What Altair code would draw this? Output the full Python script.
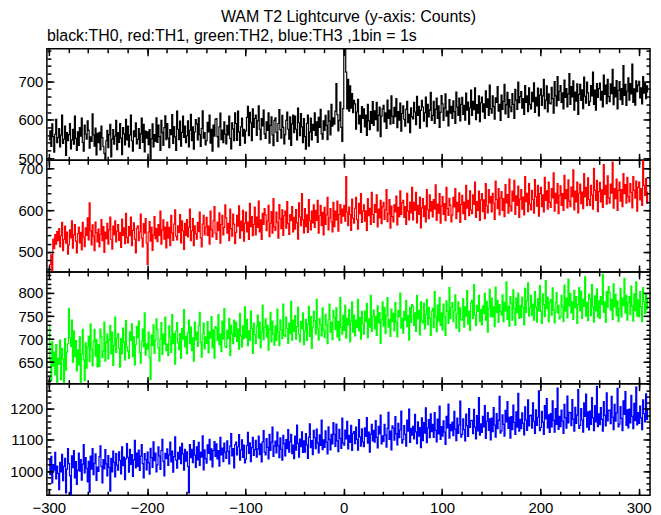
import altair as alt
import pandas as pd

# ---------------- data (counts per 1 s bin, t = -300 ... 309 s) ----------------
TIME_START = -300

th0 = [
    548, 571, 530, 589, 556, 515, 562, 601, 540, 553,
    577, 529, 560, 612, 538, 549, 583, 507, 566, 545,
    561, 590, 524, 547, 575, 536, 609, 551, 520, 568,
    533, 579, 557, 604, 541, 518, 586, 562, 549, 597,
    572, 526, 555, 543, 615, 560, 531, 578, 508, 564,
    540, 567, 521, 583, 553, 530, 512, 496, 545, 572,
    527, 561, 588, 503, 549, 574, 536, 557, 598, 522,
    566, 541, 590, 552, 509, 579, 563, 534, 601, 547,
    583, 529, 560, 612, 545, 518, 571, 556, 592, 537,
    549, 577, 525, 563, 604, 541, 588, 516, 570, 552,
    568, 535, 574, 497, 550, 589, 529, 561, 543, 605,
    541, 586, 556, 520, 598, 567, 533, 579, 610, 548,
    590, 552, 527, 574, 561, 613, 538, 582, 555, 520,
    622, 575, 548, 596, 531, 567, 609, 554, 583, 540,
    558, 597, 529, 572, 614, 545, 581, 523, 568, 600,
    589, 547, 605, 561, 530, 577, 623, 552, 566, 534,
    545, 593, 568, 612, 539, 575, 518, 586, 557, 601,
    603, 556, 529, 581, 617, 548, 573, 540, 594, 562,
    537, 585, 560, 609, 551, 524, 592, 576, 545, 618,
    590, 546, 622, 568, 533, 581, 604, 557, 575, 539,
    571, 606, 635, 558, 619, 592, 545, 628, 580, 603,
    612, 559, 597, 636, 575, 548, 603, 584, 625, 563,
    551, 594, 572, 618, 539, 585, 607, 560, 532, 598,
    605, 567, 543, 590, 626, 574, 552, 611, 580, 537,
    561, 598, 620, 575, 549, 607, 533, 589, 612, 566,
    609, 575, 547, 630, 592, 558, 616, 581, 540, 603,
    556, 523, 590, 612, 531, 568, 604, 547, 588, 572,
    618, 559, 594, 541, 606, 580, 627, 563, 549, 597,
    572, 611, 585, 548, 623, 596, 560, 640, 583, 605,
    588, 622, 694, 613, 571, 598, 646, 580, 543, 629,
    805, 798, 724, 628, 705, 622, 688, 630, 668, 618,
    650, 641, 575, 620, 653, 589, 611, 567, 634, 603,
    628, 581, 612, 559, 640, 597, 574, 621, 590, 647,
    585, 623, 600, 645, 571, 612, 633, 556, 609, 628,
    637, 594, 618, 577, 651, 603, 625, 588, 662, 609,
    590, 632, 608, 655, 579, 621, 599, 643, 570, 616,
    636, 601, 583, 627, 648, 592, 614, 566, 631, 607,
    602, 645, 620, 587, 661, 611, 635, 578, 624, 650,
    633, 596, 618, 659, 582, 640, 607, 625, 671, 598,
    611, 648, 590, 627, 656, 603, 636, 580, 619, 663,
    641, 598, 630, 667, 609, 622, 584, 652, 617, 635,
    603, 649, 621, 590, 672, 633, 611, 656, 597, 640,
    658, 614, 637, 599, 669, 625, 646, 588, 631, 677,
    611, 648, 626, 683, 600, 639, 617, 662, 595, 644,
    659, 620, 641, 603, 675, 632, 654, 611, 690, 628,
    617, 662, 634, 601, 657, 645, 686, 622, 640, 598,
    664, 627, 648, 692, 615, 639, 671, 606, 652, 633,
    621, 668, 640, 603, 679, 651, 627, 698, 644, 660,
    673, 630, 655, 614, 689, 645, 662, 621, 683, 640,
    628, 671, 647, 696, 619, 658, 636, 682, 610, 664,
    680, 637, 662, 705, 629, 651, 688, 620, 667, 643,
    641, 684, 655, 617, 699, 662, 636, 712, 650, 674,
    689, 645, 670, 628, 703, 658, 681, 633, 667, 720,
    640, 686, 659, 701, 625, 672, 648, 693, 614, 666,
    692, 650, 678, 629, 711, 661, 643, 698, 670, 637,
    648, 689, 662, 724, 640, 677, 625, 694, 658, 681,
    695, 651, 674, 633, 716, 666, 690, 642, 705, 660,
    647, 693, 668, 731, 639, 684, 659, 702, 628, 676,
    699, 652, 681, 640, 741, 663, 692, 637, 674, 709,
    651, 694, 667, 745, 645, 680, 638, 701, 673, 690,
    700, 657, 683, 641, 712, 669, 694, 655, 688, 671,
]

th1 = [
    462, 470, 493, 455, 531, 508, 542, 519, 549, 527,
    556, 512, 539, 571, 503, 530, 562, 521, 548, 495,
    517, 553, 534, 575, 509, 541, 566, 526, 498, 544,
    560, 522, 547, 505, 571, 536, 513, 558, 540, 582,
    529, 618, 551, 517, 565, 538, 503, 572, 546, 524,
    555, 512, 542, 578, 527, 561, 499, 548, 532, 569,
    519, 553, 584, 530, 507, 562, 541, 575, 524, 550,
    566, 528, 547, 511, 579, 540, 558, 520, 593, 535,
    522, 561, 539, 584, 515, 552, 570, 531, 498, 557,
    563, 527, 548, 591, 533, 512, 568, 545, 580, 521,
    470, 548, 573, 526, 559, 504, 541, 585, 532, 556,
    525, 566, 540, 598, 519, 553, 577, 531, 560, 510,
    572, 533, 559, 515, 588, 546, 528, 567, 601, 538,
    529, 563, 547, 590, 522, 575, 551, 506, 569, 540,
    578, 536, 559, 603, 527, 551, 580, 515, 563, 544,
    531, 571, 549, 596, 534, 512, 567, 588, 541, 560,
    583, 540, 562, 519, 598, 553, 536, 575, 609, 545,
    530, 572, 551, 594, 521, 566, 588, 541, 559, 613,
    582, 545, 569, 527, 603, 556, 538, 591, 567, 520,
    547, 588, 562, 611, 533, 574, 551, 600, 526, 569,
    596, 548, 572, 530, 617, 561, 585, 539, 566, 608,
    541, 584, 559, 622, 548, 577, 530, 593, 566, 604,
    589, 551, 574, 612, 537, 569, 597, 545, 628, 560,
    552, 596, 571, 533, 614, 580, 556, 601, 540, 587,
    598, 557, 621, 568, 542, 590, 575, 609, 548, 583,
    555, 602, 570, 531, 618, 584, 563, 640, 577, 546,
    604, 561, 589, 547, 626, 575, 553, 598, 570, 613,
    559, 600, 576, 624, 545, 587, 612, 563, 595, 541,
    607, 566, 589, 631, 553, 582, 604, 572, 548, 619,
    561, 598, 577, 622, 550, 590, 614, 569, 603, 586,
    612, 574, 681, 596, 563, 608, 590, 552, 627, 581,
    569, 605, 631, 578, 555, 617, 592, 640, 571, 598,
    613, 574, 599, 552, 628, 587, 605, 566, 643, 590,
    571, 614, 595, 637, 560, 603, 582, 624, 568, 609,
    619, 578, 601, 650, 573, 592, 626, 557, 610, 585,
    572, 613, 596, 634, 565, 607, 585, 647, 590, 618,
    624, 583, 609, 566, 641, 598, 577, 620, 594, 655,
    577, 619, 600, 643, 570, 612, 590, 632, 558, 606,
    628, 585, 611, 572, 650, 602, 580, 637, 598, 621,
    584, 626, 603, 661, 576, 615, 593, 640, 569, 610,
    633, 590, 616, 575, 655, 604, 588, 629, 612, 572,
    589, 631, 608, 652, 580, 619, 597, 642, 571, 614,
    636, 592, 620, 578, 660, 605, 624, 587, 647, 601,
    592, 637, 614, 668, 583, 621, 600, 646, 576, 625,
    640, 597, 625, 580, 664, 611, 594, 650, 618, 633,
    596, 641, 617, 578, 670, 626, 604, 652, 589, 630,
    645, 600, 628, 585, 662, 618, 638, 593, 675, 610,
    598, 646, 622, 672, 590, 635, 612, 658, 583, 627,
    650, 603, 632, 589, 681, 621, 641, 597, 664, 615,
    601, 648, 626, 593, 674, 633, 610, 660, 586, 640,
    655, 609, 637, 596, 679, 624, 647, 603, 668, 619,
    607, 652, 630, 690, 598, 641, 617, 664, 592, 636,
    659, 612, 640, 600, 684, 628, 650, 606, 673, 622,
    609, 656, 633, 697, 601, 646, 620, 668, 594, 641,
    663, 616, 644, 604, 688, 632, 655, 611, 678, 626,
    612, 660, 637, 603, 701, 648, 624, 672, 597, 645,
    667, 620, 649, 607, 710, 638, 660, 615, 683, 630,
    617, 663, 641, 716, 605, 652, 628, 675, 600, 648,
    668, 622, 650, 609, 688, 640, 662, 617, 679, 633,
    620, 664, 643, 606, 681, 648, 629, 670, 598, 655,
    668, 625, 652, 612, 721, 660, 636, 676, 617, 645,
]

th2 = [
    728, 655, 610, 694, 641, 672, 623, 688, 606, 659,
    645, 698, 612, 680, 657, 606, 701, 633, 672, 690,
    766, 703, 684, 741, 650, 718, 662, 697, 631, 676,
    644, 705, 606, 668, 721, 655, 610, 692, 637, 683,
    706, 651, 733, 678, 642, 695, 721, 663, 699, 640,
    688, 641, 722, 705, 660, 674, 737, 652, 693, 711,
    657, 699, 730, 668, 715, 643, 686, 748, 671, 702,
    712, 680, 639, 701, 668, 724, 693, 655, 740, 683,
    674, 658, 716, 697, 733, 662, 705, 644, 688, 727,
    703, 739, 671, 648, 696, 722, 683, 757, 665, 690,
    678, 715, 660, 612, 709, 686, 731, 669, 697, 744,
    721, 681, 652, 700, 736, 667, 711, 689, 748, 675,
    689, 664, 729, 704, 671, 753, 690, 712, 646, 718,
    736, 692, 677, 712, 658, 723, 700, 764, 683, 706,
    668, 714, 741, 690, 726, 675, 703, 652, 737, 699,
    715, 684, 729, 758, 693, 661, 711, 735, 679, 705,
    691, 738, 670, 716, 702, 749, 681, 720, 659, 727,
    724, 697, 753, 688, 711, 673, 739, 700, 766, 684,
    682, 719, 701, 745, 664, 730, 712, 690, 741, 706,
    737, 695, 722, 678, 756, 707, 683, 729, 701, 770,
    703, 743, 686, 718, 697, 761, 723, 669, 735, 710,
    690, 728, 752, 702, 737, 681, 716, 773, 699, 726,
    744, 705, 730, 676, 721, 758, 694, 739, 711, 687,
    729, 697, 765, 715, 686, 742, 720, 701, 776, 708,
    706, 748, 723, 691, 735, 712, 782, 698, 741, 717,
    751, 700, 727, 769, 710, 694, 738, 722, 757, 688,
    718, 743, 697, 732, 771, 706, 749, 680, 726, 760,
    740, 711, 786, 722, 698, 745, 731, 707, 768, 719,
    703, 754, 731, 690, 742, 776, 715, 737, 699, 762,
    747, 721, 768, 705, 738, 697, 790, 726, 711, 752,
    719, 773, 702, 745, 731, 764, 694, 739, 781, 715,
    752, 707, 741, 725, 786, 718, 747, 700, 760, 733,
    711, 761, 738, 777, 703, 744, 726, 795, 717, 750,
    763, 722, 749, 708, 772, 735, 757, 691, 742, 781,
    728, 769, 712, 751, 790, 726, 743, 706, 765, 738,
    756, 718, 779, 736, 705, 762, 748, 800, 724, 745,
    713, 760, 741, 784, 727, 751, 698, 769, 736, 775,
    771, 730, 757, 717, 795, 744, 762, 709, 781, 739,
    735, 778, 722, 754, 786, 731, 769, 745, 708, 760,
    767, 725, 803, 748, 716, 774, 739, 790, 729, 757,
    720, 776, 748, 708, 783, 760, 734, 812, 745, 769,
    779, 738, 762, 796, 724, 755, 781, 717, 768, 742,
    741, 788, 726, 770, 750, 805, 733, 761, 719, 779,
    784, 745, 818, 752, 729, 773, 760, 795, 738, 764,
    731, 772, 756, 799, 741, 782, 715, 767, 808, 749,
    789, 748, 770, 727, 813, 758, 784, 736, 775, 760,
    752, 796, 738, 780, 761, 824, 743, 771, 728, 792,
    778, 741, 807, 766, 730, 789, 757, 800, 745, 772,
    747, 791, 769, 731, 810, 758, 783, 822, 750, 768,
    795, 752, 776, 741, 803, 770, 737, 788, 761, 816,
    760, 734, 798, 775, 749, 827, 766, 791, 738, 780,
    786, 752, 811, 763, 735, 779, 801, 757, 773, 744,
    748, 795, 770, 738, 817, 761, 789, 746, 830, 772,
    799, 757, 781, 743, 806, 768, 792, 734, 775, 812,
    762, 804, 745, 786, 771, 835, 750, 779, 740, 797,
    788, 751, 818, 770, 737, 794, 762, 809, 748, 783,
    745, 792, 775, 841, 758, 781, 736, 803, 769, 814,
    801, 763, 786, 742, 820, 770, 797, 751, 783, 738,
    766, 810, 748, 789, 773, 832, 757, 795, 741, 779,
    792, 753, 815, 771, 739, 798, 762, 824, 750, 785,
    749, 803, 770, 738, 812, 781, 756, 797, 765, 788,
]

th3 = [
    1035, 988, 1047, 962, 1021, 1003, 1060, 975, 1016, 992,
    940, 1028, 997, 1054, 969, 1015, 1041, 930, 1006, 1072,
    1024, 985, 925, 1049, 1011, 1066, 978, 1030, 957, 1003,
    1058, 1000, 1037, 971, 1022, 1085, 994, 1043, 1009, 965,
    1031, 932, 1048, 1006, 1072, 988, 1025, 1055, 970, 1013,
    999, 1046, 1081, 1015, 962, 1037, 1007, 1069, 1023, 984,
    1050, 1012, 935, 1041, 997, 1064, 1028, 981, 1056, 1019,
    1003, 1062, 1034, 991, 1078, 1017, 1045, 972, 1039, 1088,
    1044, 996, 1070, 1021, 1053, 983, 1036, 1099, 1010, 1058,
    1015, 1067, 1002, 1048, 1085, 1024, 978, 1056, 1037, 1004,
    1061, 1026, 990, 1073, 1043, 1012, 1094, 1033, 1058, 997,
    1020, 1078, 1049, 1005, 1066, 1102, 1031, 984, 1057, 1040,
    1071, 1018, 1052, 1093, 1029, 1064, 996, 1046, 1110, 1035,
    1009, 1060, 1038, 1077, 1024, 1089, 1055, 1003, 1070, 1032,
    1062, 1015, 930, 1085, 1043, 1070, 1027, 1098, 1051, 1012,
    1078, 1036, 1092, 1018, 1061, 1045, 1113, 1004, 1068, 1040,
    1025, 1084, 1057, 1102, 1036, 1071, 1013, 1066, 1095, 1047,
    1087, 1039, 1066, 1016, 1108, 1052, 1074, 1030, 1090, 1061,
    1041, 1097, 1063, 1023, 1080, 1120, 1049, 1072, 1010, 1085,
    1093, 1052, 1078, 1117, 1035, 1068, 1100, 1044, 1083, 1026,
    1038, 1082, 1124, 1057, 1091, 1030, 1075, 1108, 1050, 1069,
    1099, 1045, 1071, 1112, 1053, 1087, 1029, 1094, 1130, 1061,
    1052, 1104, 1076, 1039, 1118, 1066, 1093, 1141, 1047, 1080,
    1096, 1058, 1125, 1081, 1043, 1107, 1070, 1035, 1115, 1088,
    1049, 1101, 1072, 1133, 1061, 1094, 1118, 1056, 1083, 1040,
    1112, 1067, 1148, 1089, 1045, 1103, 1078, 1126, 1060, 1097,
    1061, 1120, 1084, 1041, 1109, 1152, 1075, 1098, 1053, 1131,
    1107, 1072, 1135, 1090, 1058, 1116, 1082, 1164, 1069, 1100,
    1076, 1129, 1093, 1055, 1142, 1101, 1068, 1118, 1087, 1156,
    1118, 1079, 1151, 1097, 1062, 1134, 1105, 1073, 1170, 1090,
    1083, 1132, 1103, 1160, 1071, 1115, 1092, 1147, 1066, 1121,
    1127, 1088, 1141, 1102, 1067, 1165, 1110, 1080, 1136, 1094,
    1078, 1139, 1111, 1172, 1090, 1125, 1061, 1118, 1150, 1097,
    1131, 1093, 1162, 1108, 1074, 1144, 1119, 1180, 1087, 1113,
    1095, 1150, 1116, 1077, 1137, 1189, 1102, 1128, 1068, 1145,
    1138, 1099, 1175, 1120, 1084, 1153, 1107, 1132, 1193, 1090,
    1101, 1146, 1118, 1080, 1164, 1128, 1199, 1092, 1137, 1115,
    1144, 1103, 1182, 1126, 1088, 1158, 1112, 1140, 1075, 1171,
    1098, 1156, 1122, 1203, 1091, 1139, 1165, 1107, 1184, 1127,
    1150, 1108, 1188, 1131, 1094, 1167, 1119, 1209, 1102, 1143,
    1112, 1161, 1125, 1086, 1176, 1139, 1215, 1106, 1150, 1130,
    1157, 1114, 1192, 1135, 1098, 1170, 1121, 1148, 1225, 1109,
    1118, 1168, 1133, 1097, 1183, 1146, 1111, 1201, 1140, 1162,
    1163, 1120, 1198, 1141, 1103, 1178, 1129, 1236, 1115, 1152,
    1124, 1176, 1142, 1210, 1105, 1160, 1188, 1131, 1168, 1100,
    1170, 1127, 1204, 1148, 1109, 1185, 1136, 1163, 1240, 1122,
    1129, 1181, 1150, 1112, 1195, 1158, 1223, 1137, 1173, 1106,
    1175, 1133, 1212, 1156, 1118, 1190, 1141, 1250, 1128, 1166,
    1136, 1187, 1153, 1116, 1206, 1164, 1131, 1229, 1145, 1178,
    1180, 1138, 1219, 1160, 1121, 1197, 1147, 1173, 1258, 1130,
    1140, 1192, 1157, 1118, 1210, 1168, 1233, 1139, 1181, 1124,
    1185, 1142, 1226, 1163, 1125, 1201, 1150, 1267, 1134, 1176,
    1143, 1196, 1160, 1121, 1214, 1172, 1138, 1241, 1155, 1189,
    1188, 1146, 1230, 1167, 1128, 1205, 1153, 1180, 1262, 1137,
    1147, 1201, 1164, 1125, 1219, 1176, 1247, 1141, 1190, 1132,
    1193, 1150, 1236, 1171, 1130, 1210, 1158, 1272, 1143, 1184,
    1149, 1204, 1166, 1128, 1223, 1179, 1145, 1251, 1161, 1195,
    1196, 1152, 1240, 1173, 1133, 1214, 1160, 1187, 1266, 1142,
    1151, 1207, 1169, 1130, 1226, 1182, 1255, 1147, 1197, 1139,
    1199, 1155, 1243, 1176, 1136, 1218, 1162, 1270, 1148, 1188,
    1153, 1209, 1171, 1133, 1229, 1185, 1158, 1248, 1166, 1197,
]

series_colors = ["#000000", "#ff0000", "#00ff00", "#0000ff"]
y_domains = [[494, 785], [452, 720], [603.5, 845.6], [922, 1281]]
y_major_ticks = [[500, 600, 700], [500, 600, 700], [650, 700, 750, 800], [1000, 1100, 1200]]
y_minor_ticks = [
    list(range(500, 785, 20)),
    list(range(460, 720, 20)),
    list(range(610, 846, 10)),
    list(range(940, 1281, 20)),
]
x_domain = [-302, 311.5]
x_major_ticks = list(range(-300, 301, 100))
x_minor_ticks = list(range(-300, 311, 20))

title_text = "WAM T2 Lightcurve (y-axis: Counts)"
subtitle_text = "black:TH0, red:TH1, green:TH2, blue:TH3 ,1bin = 1s"

FONT = "Liberation Sans"
W, H = 605, 112
MAJ, MIN = 7, 4


def axis(orient, values, size, labels):
    kw = dict(
        orient=orient,
        values=values,
        format="d",
        tickSize=alt.ExprRef(expr=f"-{size}"),
        tickWidth=1.5,
        tickColor="black",
        labels=labels,
        labelFlush=False,
        labelOverlap=False,
        labelPadding=11 if orient == "left" else 12,
        labelFont=FONT,
        labelFontSize=15,
        labelColor="black",
        domain=False,
        grid=False,
        title=None,
        minExtent=0,
        zindex=2,
    )
    if not labels:
        kw["maxExtent"] = 0
    return alt.Axis(**kw)


def make_panel(i):
    vals = [th0, th1, th2, th3][i]
    df = pd.DataFrame({"t": list(range(TIME_START, TIME_START + len(vals))), "c": vals})
    last = i == 3
    xs = alt.Scale(domain=x_domain, nice=False, zero=False)
    ys = alt.Scale(domain=y_domains[i], nice=False, zero=False)
    base = alt.Chart(df)
    line = base.mark_line(
        color=series_colors[i], strokeWidth=1.2, interpolate="step-after", clip=True
    ).encode(
        x=alt.X("t:Q", scale=xs, axis=axis("bottom", x_major_ticks, MAJ, last)),
        y=alt.Y("c:Q", scale=ys, axis=axis("left", y_major_ticks[i], MAJ, True)),
    )
    ghost = base.mark_line(strokeOpacity=0, clip=True)
    l2 = ghost.encode(
        x=alt.X("t:Q", scale=xs, axis=axis("bottom", x_minor_ticks, MIN, False)),
        y=alt.Y("c:Q", scale=ys, axis=axis("left", y_minor_ticks[i], MIN, False)),
    )
    l3 = ghost.encode(
        x=alt.X("t:Q", scale=xs, axis=axis("top", x_major_ticks, MAJ, False)),
        y=alt.Y("c:Q", scale=ys, axis=axis("right", y_major_ticks[i], MAJ, False)),
    )
    l4 = ghost.encode(
        x=alt.X("t:Q", scale=xs, axis=axis("top", x_minor_ticks, MIN, False)),
        y=alt.Y("c:Q", scale=ys, axis=axis("right", y_minor_ticks[i], MIN, False)),
    )
    layer = alt.layer(line, l2, l3, l4).resolve_axis(x="independent", y="independent")
    props = dict(width=W, height=H)
    if i == 0:
        props["title"] = alt.TitleParams(
            subtitle_text, anchor="start", frame="group", fontSize=16, font=FONT,
            fontWeight="normal", color="black", offset=4,
        )
    return layer.properties(**props)


chart = (
    alt.vconcat(*[make_panel(i) for i in range(4)], spacing=0, bounds="flush")
    .properties(
        title=alt.TitleParams(
            title_text, anchor="middle", frame="group", fontSize=16, font=FONT,
            fontWeight="normal", color="black", offset=2,
        ),
        padding={"left": 0, "top": 0, "right": 1, "bottom": 6},
    )
    .configure_view(stroke="black", strokeWidth=1.5)
    .configure_concat(spacing=0)
)

chart.save("out.html", embed_options={"renderer": "svg", "actions": False})
